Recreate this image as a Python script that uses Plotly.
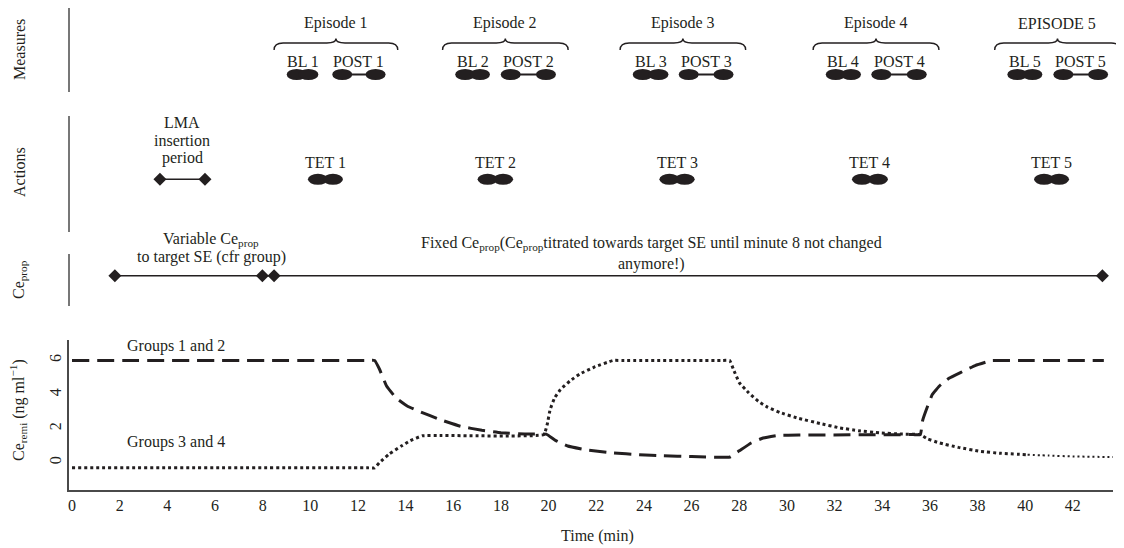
import plotly.graph_objects as go

# ---------------- data ----------------
TIME_TICKS = list(range(0, 43, 2))
REMI_TICKS = [0, 2, 4, 6]

# Ce_remi, Groups 1 and 2 (dashed)
G12_T = [0, 12.4, 12.7, 12.9, 13.2, 13.6, 14.1, 14.6, 15.4, 16.3, 17.2, 18.0, 19.0, 19.9,
         20.3, 20.8, 21.6, 22.7, 23.8, 24.8, 26.0, 27.6,
         28.0, 28.5, 29.0, 29.6, 30.5, 35.3, 35.6,
         35.7, 35.9, 36.1, 36.4, 36.8, 37.3, 37.9, 38.6, 39.0, 43.3]
G12_Y = [6.0, 6.0, 6.0, 5.5, 4.5, 3.8, 3.3, 3.0, 2.55, 2.14, 1.9, 1.76, 1.68, 1.68,
         1.3, 0.98, 0.75, 0.58, 0.47, 0.41, 0.36, 0.33,
         0.7, 1.16, 1.45, 1.6, 1.62, 1.65, 1.65,
         2.5, 3.3, 4.0, 4.5, 4.95, 5.3, 5.7, 6.0, 6.0, 6.0]

# Ce_remi, Groups 3 and 4 (dotted)
G34_T = [0, 12.4, 12.7, 12.9, 13.3, 13.8, 14.2, 14.7, 15.5,
         19.8, 19.95, 20.06, 20.25, 20.5, 20.9, 21.3, 21.9, 22.7, 23.1,
         27.3, 27.6, 27.75, 28.0, 28.4, 28.8, 29.2, 29.7, 30.5, 31.4, 32.2, 33.0, 33.9, 34.8, 35.6,
         35.9, 36.4, 37.2, 38.1, 39.0, 40.1, 41.0, 42.0, 43.7]
G34_Y = [-0.3, -0.3, -0.3, 0.0, 0.5, 0.96, 1.3, 1.58, 1.6,
         1.65, 2.3, 3.1, 3.8, 4.3, 4.8, 5.2, 5.6, 6.0, 6.0,
         6.0, 6.0, 5.5, 4.7, 4.1, 3.6, 3.25, 2.95, 2.6, 2.3, 2.05, 1.88, 1.75, 1.68, 1.65,
         1.4, 1.16, 0.9, 0.67, 0.55, 0.47, 0.42, 0.37, 0.33]
G34_FINE_FROM = 40.1   # the dotted line is drawn finer from here on

EPISODE_LABELS = ["Episode 1", "Episode 2", "Episode 3", "Episode 4", "EPISODE 5"]
BL_LABELS = ["BL 1", "BL 2", "BL 3", "BL 4", "BL 5"]
POST_LABELS = ["POST 1", "POST 2", "POST 3", "POST 4", "POST 5"]
TET_LABELS = ["TET 1", "TET 2", "TET 3", "TET 4", "TET 5"]

BL_START = [9.43, 16.50, 23.95, 32.05, 39.67]
BL_END = [9.92, 17.12, 24.61, 32.69, 40.30]
POST_START = [11.34, 18.41, 25.88, 33.96, 41.60]
POST_END = [12.74, 19.89, 27.34, 35.45, 43.06]
TET_START = [10.32, 17.44, 25.07, 33.15, 40.79]
TET_END = [10.95, 18.09, 25.71, 33.82, 41.42]

LMA_PERIOD = [3.69, 5.58]
LMA_LINES = ["LMA", "insertion", "period"]
CEPROP_MARKS = [1.80, 7.99, 8.48, 43.24]

# ---------------- style / layout constants ----------------
PAGE_W, PAGE_H = 1124, 548
OFF = 8                      # default page body margin
W, H = PAGE_W - OFF, PAGE_H - OFF
INK = "#231f20"
AXIS = "#4a4a4a"
FONT = "Liberation Serif"
FS = 16

# bottom plot geometry (page pixels)
PX_LEFT, PX_RIGHT, PX_TOP, PX_BOTTOM = 69, 1113, 340, 490
PX_ZERO, PX_PER_MIN = 72, 23.83


def px_to_min(px):
    return (px - PX_ZERO) / PX_PER_MIN


def fx(px):
    return (px - OFF) / W


def fy(py):
    return (PAGE_H - py) / H


# schematic rows (page pixel y, used on a reversed helper axis)
ROW = dict(episode=23, brace_tip=38.5, brace_mid=43, brace_end=50, sublabel=61, measure=74.5,
           lma=[122, 140, 158], tet_text=162.5, action=179.3,
           var_text=[239, 257], fixed_text=[243, 264], ceprop=275.7)
PANELS = [("Measures", 8, 92, 50), ("Actions", 116, 232, 172), ("Ce<sub>prop</sub>", 254, 306, 280)]

ELL_HW, ELL_HH = 0.42, 5.5
BRACE_PAD_L, BRACE_PAD_R, BRACE_CURL = 0.95, 0.93, 0.38

fig = go.Figure()

# ---- bottom chart lines ----
fig.add_trace(go.Scatter(x=G12_T, y=G12_Y, mode="lines", xaxis="x", yaxis="y",
                         line=dict(color=INK, width=3, dash="17px,8px", shape="spline", smoothing=0.3),
                         hoverinfo="skip"))
split = next(i for i, t in enumerate(G34_T) if t >= G34_FINE_FROM)
fig.add_trace(go.Scatter(x=G34_T[:split + 1], y=G34_Y[:split + 1], mode="lines", xaxis="x", yaxis="y",
                         line=dict(color=INK, width=3, dash="3px,3px", shape="spline", smoothing=0.3),
                         hoverinfo="skip"))
fig.add_trace(go.Scatter(x=G34_T[split:], y=G34_Y[split:], mode="lines", xaxis="x", yaxis="y",
                         line=dict(color=INK, width=2, dash="2px,3px", shape="spline", smoothing=0.3),
                         hoverinfo="skip"))

shapes = []
annotations = []


def txt(text, x, y, xref="x2", yref="y2", size=FS, angle=0):
    annotations.append(dict(text=text, x=x, y=y, xref=xref, yref=yref, showarrow=False,
                            font=dict(family=FONT, size=size, color=INK), textangle=angle,
                            xanchor="center", yanchor="middle"))


def ellipse(cx, cy):
    shapes.append(dict(type="circle", xref="x2", yref="y2",
                       x0=cx - ELL_HW, x1=cx + ELL_HW, y0=cy - ELL_HH, y1=cy + ELL_HH,
                       fillcolor=INK, line=dict(width=0), layer="above"))


# ---- measures row ----
post_x, post_y = [], []
for i in range(len(EPISODE_LABELS)):
    x0 = BL_START[i] - BRACE_PAD_L
    x1 = POST_END[i] + BRACE_PAD_R
    xc = (x0 + x1) / 2
    c = BRACE_CURL
    yb, ym, yt = ROW["brace_end"], ROW["brace_mid"], ROW["brace_tip"]
    path = (f"M {x0},{yb} Q {x0},{ym} {x0 + c},{ym} L {xc - c},{ym} Q {xc},{ym} {xc},{yt} "
            f"Q {xc},{ym} {xc + c},{ym} L {x1 - c},{ym} Q {x1},{ym} {x1},{yb}")
    shapes.append(dict(type="path", xref="x2", yref="y2", path=path, line=dict(color=INK, width=1.4)))
    txt(EPISODE_LABELS[i], xc, ROW["episode"])
    txt(BL_LABELS[i], (BL_START[i] + BL_END[i]) / 2, ROW["sublabel"])
    txt(POST_LABELS[i], (POST_START[i] + POST_END[i]) / 2, ROW["sublabel"])
    ellipse(BL_START[i], ROW["measure"])
    ellipse(BL_END[i], ROW["measure"])
    ellipse(POST_START[i], ROW["measure"])
    ellipse(POST_END[i], ROW["measure"])
    post_x += [POST_START[i], POST_END[i], None]
    post_y += [ROW["measure"], ROW["measure"], None]
    # actions row
    txt(TET_LABELS[i], (TET_START[i] + TET_END[i]) / 2, ROW["tet_text"])
    ellipse(TET_START[i], ROW["action"])
    ellipse(TET_END[i], ROW["action"])

fig.add_trace(go.Scatter(x=post_x, y=post_y, mode="lines", xaxis="x2", yaxis="y2",
                         line=dict(color=INK, width=2), hoverinfo="skip"))

# LMA insertion period
fig.add_trace(go.Scatter(x=LMA_PERIOD, y=[ROW["action"]] * 2, mode="lines+markers", xaxis="x2", yaxis="y2",
                         line=dict(color=INK, width=1.5),
                         marker=dict(symbol="diamond", size=10, color=INK), hoverinfo="skip"))
lma_c = sum(LMA_PERIOD) / 2
for line, yy in zip(LMA_LINES, ROW["lma"]):
    txt(line, lma_c, yy)

# Ce_prop row
fig.add_trace(go.Scatter(x=[CEPROP_MARKS[0], CEPROP_MARKS[-1]], y=[ROW["ceprop"]] * 2, mode="lines",
                         xaxis="x2", yaxis="y2", line=dict(color=INK, width=1.5), hoverinfo="skip"))
fig.add_trace(go.Scatter(x=CEPROP_MARKS, y=[ROW["ceprop"]] * len(CEPROP_MARKS), mode="markers",
                         xaxis="x2", yaxis="y2",
                         marker=dict(symbol="diamond", size=10, color=INK), hoverinfo="skip"))
txt("Variable Ce<sub>prop</sub>", px_to_min(211), ROW["var_text"][0])
txt("to target SE (cfr group)", px_to_min(211), ROW["var_text"][1])
txt("Fixed Ce<sub>prop</sub>(Ce<sub>prop</sub>titrated towards target SE until minute 8 not changed",
    px_to_min(651.5), ROW["fixed_text"][0])
txt("anymore!)", px_to_min(651.5), ROW["fixed_text"][1])

# panel separators and labels
for label, ya, yb_, yc in PANELS:
    shapes.append(dict(type="line", xref="paper", yref="y2", x0=fx(PX_LEFT), x1=fx(PX_LEFT),
                       y0=ya, y1=yb_, line=dict(color=AXIS, width=1.5)))
    txt(label, fx(19), yc, xref="paper", angle=-90)

# bottom chart labels
txt("Groups 1 and 2", px_to_min(176), 6.84, xref="x", yref="y")
txt("Groups 3 and 4", px_to_min(176), 1.19, xref="x", yref="y")
txt("Ce<sub>remi</sub> (ng ml<sup>\u22121</sup>)", fx(18), fy(410), xref="paper", yref="paper", angle=-90)
txt("Time (min)", fx(597), fy(536), xref="paper", yref="paper")

fig.update_layout(
    width=W, height=H,
    margin=dict(l=0, r=0, t=0, b=0),
    paper_bgcolor="white", plot_bgcolor="rgba(0,0,0,0)",
    showlegend=False,
    font=dict(family=FONT, size=FS, color=INK),
    xaxis=dict(domain=[fx(PX_LEFT), fx(PX_RIGHT)], range=[px_to_min(PX_LEFT), px_to_min(PX_RIGHT)],
               tickvals=TIME_TICKS, ticks="", showgrid=False, zeroline=False,
               showline=True, linecolor=AXIS, linewidth=1.5, anchor="y",
               tickfont=dict(family=FONT, size=FS, color=INK), automargin=False, fixedrange=True),
    yaxis=dict(domain=[fy(PX_BOTTOM), fy(PX_TOP)], range=[-1.6, 7.2],
               tickvals=REMI_TICKS, ticks="", tickangle=-90, showgrid=False, zeroline=False,
               showline=True, linecolor=AXIS, linewidth=1.5, anchor="x",
               tickfont=dict(family=FONT, size=FS, color=INK), automargin=False, fixedrange=True),
    xaxis2=dict(domain=[0, 1], range=[px_to_min(OFF), px_to_min(PAGE_W)], visible=False, anchor="y2",
                fixedrange=True),
    yaxis2=dict(domain=[0, 1], range=[PAGE_H, OFF], visible=False, anchor="x2", fixedrange=True),
    shapes=shapes,
    annotations=annotations,
)

fig.write_html("out.html")
